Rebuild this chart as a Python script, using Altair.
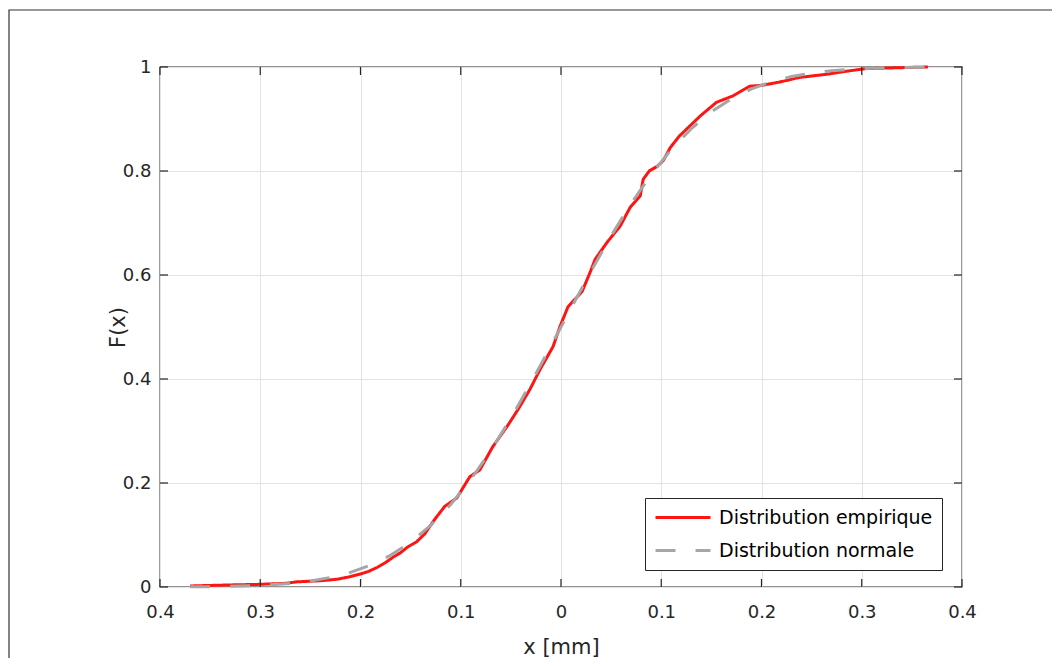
import altair as alt
import pandas as pd

# ---- data ----
series_names = ["Distribution empirique", "Distribution normale"]

emp_x = [-0.370, -0.330, -0.303, -0.275, -0.263, -0.240, -0.223, -0.210, -0.200,
         -0.192, -0.183, -0.175, -0.167, -0.160, -0.153, -0.144, -0.136, -0.126,
         -0.116, -0.104, -0.091, -0.081, -0.068, -0.054, -0.043, -0.031, -0.021,
         -0.008, -0.001, 0.007, 0.021, 0.029, 0.034, 0.046, 0.059, 0.069, 0.079,
         0.082, 0.088, 0.096, 0.102, 0.109, 0.118, 0.125, 0.139, 0.155, 0.171,
         0.188, 0.201, 0.218, 0.238, 0.265, 0.285, 0.305, 0.366]
emp_f = [0.002, 0.004, 0.005, 0.007, 0.010, 0.012, 0.015, 0.020, 0.025,
         0.030, 0.038, 0.047, 0.058, 0.066, 0.077, 0.087, 0.102, 0.130,
         0.155, 0.171, 0.212, 0.225, 0.270, 0.308, 0.341, 0.380, 0.418,
         0.462, 0.501, 0.539, 0.568, 0.605, 0.630, 0.663, 0.694, 0.730, 0.752,
         0.784, 0.800, 0.809, 0.820, 0.845, 0.867, 0.880, 0.906, 0.932, 0.944,
         0.963, 0.965, 0.971, 0.980, 0.986, 0.992, 0.997, 1.000]

norm_x = [-0.37, -0.35, -0.33, -0.31, -0.29, -0.27, -0.25, -0.23, -0.21, -0.19,
          -0.17, -0.15, -0.13, -0.11, -0.09, -0.07, -0.05, -0.03, -0.01, 0.01,
          0.03, 0.05, 0.07, 0.09, 0.11, 0.13, 0.15, 0.17, 0.19, 0.21,
          0.23, 0.25, 0.27, 0.29, 0.31, 0.33, 0.35, 0.37]
norm_f = [0.0004, 0.0007, 0.0013, 0.0024, 0.0042, 0.0070, 0.0115, 0.0183, 0.0281, 0.0421,
          0.0611, 0.0863, 0.1186, 0.1587, 0.2066, 0.2623, 0.3247, 0.3925, 0.4638, 0.5362,
          0.6075, 0.6753, 0.7377, 0.7934, 0.8413, 0.8814, 0.9137, 0.9389, 0.9579, 0.9719,
          0.9817, 0.9885, 0.9930, 0.9958, 0.9976, 0.9987, 0.9993, 0.9996]

x_ticks = [-0.4, -0.3, -0.2, -0.1, 0.0, 0.1, 0.2, 0.3, 0.4]
y_ticks = [0.0, 0.2, 0.4, 0.6, 0.8, 1.0]

# ---- layout ----
W, H = 802, 520
FONT = "DejaVu Sans"
TXT = "#262626"

emp_df = pd.DataFrame({"x": emp_x, "F": emp_f, "serie": series_names[0]})
norm_df = pd.DataFrame({"x": norm_x, "F": norm_f, "serie": series_names[1]})
xt_df = pd.DataFrame({"t": x_ticks})
yt_df = pd.DataFrame({"t": y_ticks})
frame_df = pd.DataFrame({"a": [0]})

xscale = alt.Scale(domain=[-0.4, 0.4], nice=False, zero=False)
yscale = alt.Scale(domain=[0, 1], nice=False)

x_axis = alt.Axis(values=x_ticks, labelExpr="format(abs(datum.value), '.1~f')",
                  title="x [mm]", titleY=60, titleBaseline="middle",
                  labelPadding=16, labelFontSize=18, labelFlush=False)
y_axis = alt.Axis(values=y_ticks, labelExpr="format(datum.value, '.1~f')",
                  title="F(x)", titleX=-42, titleY=H / 2, titleAngle=-90,
                  titleAlign="center", titleBaseline="middle",
                  labelPadding=9, labelFontSize=18, labelFlush=False)

color = alt.Color("serie:N",
                  scale=alt.Scale(domain=series_names, range=["#ff1414", "#a6a6a6"]),
                  legend=alt.Legend(title=None))
dash = alt.StrokeDash("serie:N",
                      scale=alt.Scale(domain=series_names, range=[[1, 0], [20, 20]]),
                      legend=alt.Legend(title=None))

frame = alt.Chart(frame_df).mark_rect(fill="transparent", stroke="#333333",
                                      strokeWidth=1.2, clip=False).encode(
    x=alt.value(-151), x2=alt.value(W + 300),
    y=alt.value(-57), y2=alt.value(H + 300))

emp = alt.Chart(emp_df).mark_line(strokeWidth=3).encode(
    x=alt.X("x:Q", scale=xscale, axis=x_axis),
    y=alt.Y("F:Q", scale=yscale, axis=y_axis),
    color=color, strokeDash=dash)

norm = alt.Chart(norm_df).mark_line(strokeWidth=3).encode(
    x=alt.X("x:Q", scale=xscale),
    y=alt.Y("F:Q", scale=yscale),
    color=color, strokeDash=dash)

tick_style = dict(color=TXT, strokeWidth=1.2)
xt_bottom = alt.Chart(xt_df).mark_rule(**tick_style).encode(
    x=alt.X("t:Q", scale=xscale), y=alt.value(H), y2=alt.value(H - 8))
xt_top = alt.Chart(xt_df).mark_rule(**tick_style).encode(
    x=alt.X("t:Q", scale=xscale), y=alt.value(0), y2=alt.value(8))
yt_left = alt.Chart(yt_df).mark_rule(**tick_style).encode(
    y=alt.Y("t:Q", scale=yscale), x=alt.value(0), x2=alt.value(8))
yt_right = alt.Chart(yt_df).mark_rule(**tick_style).encode(
    y=alt.Y("t:Q", scale=yscale), x=alt.value(W), x2=alt.value(W - 8))

chart = alt.layer(frame, emp, norm, xt_bottom, xt_top, yt_left, yt_right).properties(
    width=W, height=H,
    autosize=alt.AutoSizeParams(type="none"),
    padding={"left": 152, "top": 59, "right": 90, "bottom": 71},
    background="white",
).configure_view(
    stroke=TXT, strokeWidth=1.3
).configure_axis(
    domain=False, ticks=False, grid=True, gridColor="#e3e3e3", gridWidth=1,
    labelFont=FONT, labelColor=TXT, titleFont=FONT, titleColor=TXT,
    titleFontSize=21, titleFontWeight="normal"
).configure_legend(
    orient="none", legendX=485, legendY=431,
    strokeColor=TXT, fillColor="white", padding=9,
    labelFont=FONT, labelFontSize=19, labelColor="#000000", labelOffset=7,
    symbolType="stroke", symbolSize=3025, symbolStrokeWidth=3,
    clipHeight=21, rowPadding=12, labelLimit=400
)

chart.save("out.html", embed_options={"renderer": "svg", "actions": False})
